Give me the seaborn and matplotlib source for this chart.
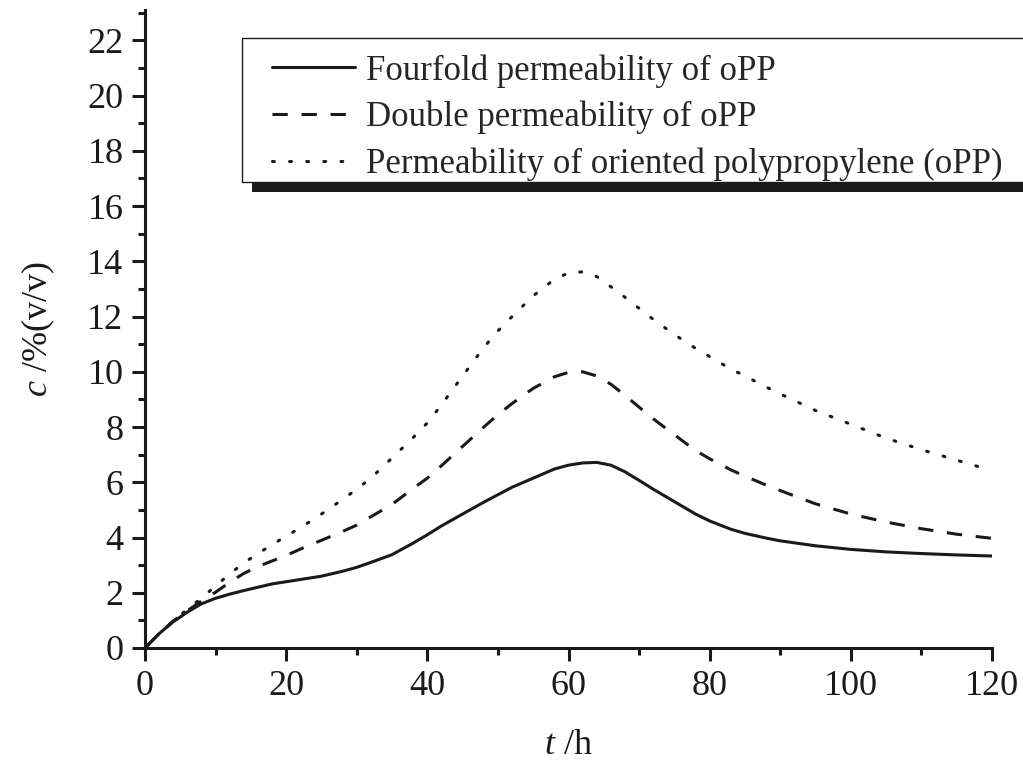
import pandas as pd
import matplotlib
matplotlib.use('Agg')
import matplotlib.pyplot as plt
from matplotlib.patches import Rectangle
from matplotlib.ticker import MultipleLocator
import seaborn as sns

# Время, ч
t = [0, 2, 4, 6, 8, 10, 12, 14, 16, 18, 20, 22, 25, 28, 30, 32, 35, 38, 40, 42,
     45, 48, 50, 52, 55, 58, 60, 62, 64, 66, 68, 70, 72, 75, 78, 80, 83, 85, 88,
     90, 95, 100, 105, 110, 115, 120]

# Концентрация, %(v/v)
fourfold = [0, 0.52, 0.95, 1.3, 1.6, 1.8, 1.95, 2.08, 2.2, 2.32, 2.4, 2.48, 2.6,
            2.78, 2.92, 3.1, 3.38, 3.8, 4.1, 4.42, 4.85, 5.28, 5.55, 5.82, 6.15,
            6.48, 6.62, 6.7, 6.72, 6.62, 6.38, 6.07, 5.75, 5.3, 4.85, 4.6, 4.3,
            4.15, 3.98, 3.88, 3.7, 3.57, 3.48, 3.42, 3.37, 3.33]
double = [0, 0.52, 0.98, 1.35, 1.7, 2.02, 2.38, 2.7, 2.95, 3.15, 3.35, 3.58, 3.9,
          4.22, 4.45, 4.75, 5.2, 5.78, 6.15, 6.6, 7.3, 8.0, 8.45, 8.85, 9.4, 9.82,
          9.98, 10.0, 9.85, 9.55, 9.15, 8.72, 8.3, 7.72, 7.15, 6.85, 6.45, 6.22,
          5.9, 5.7, 5.22, 4.85, 4.56, 4.32, 4.12, 3.97]
single = [0, 0.52, 0.98, 1.4, 1.8, 2.25, 2.68, 3.08, 3.42, 3.74, 4.05, 4.35, 4.85,
          5.38, 5.75, 6.15, 6.88, 7.62, 8.15, 8.8, 9.85, 10.88, 11.48, 12.0, 12.75,
          13.35, 13.58, 13.62, 13.45, 13.08, 12.7, 12.3, 11.9, 11.35, 10.85, 10.55,
          10.1, 9.85, 9.45, 9.2, 8.6, 8.1, 7.6, 7.18, 6.8, 6.42]

labels = ['Fourfold permeability of oPP',
          'Double permeability of oPP',
          'Permeability of oriented polypropylene (oPP)']


def main():
    sns.set_theme(style='ticks')
    plt.rcParams['font.family'] = ['Liberation Serif', 'DejaVu Serif']
    plt.rcParams['mathtext.fontset'] = 'custom'
    plt.rcParams['mathtext.rm'] = 'Liberation Serif'
    plt.rcParams['mathtext.it'] = 'Liberation Serif:italic'

    W, H = 1023, 761
    fig = plt.figure(figsize=(W / 100, H / 100), dpi=100)
    ax = fig.add_axes([145 / W, 1 - 648 / H, 847 / W, 638 / H])

    df = pd.DataFrame({'t': t, 'four': fourfold, 'double': double, 'single': single})
    lw = 2.2
    sns.lineplot(data=df, x='t', y='four', ax=ax, color='k', lw=lw,
                 linestyle='-', label=labels[0])
    sns.lineplot(data=df, x='t', y='double', ax=ax, color='k', lw=lw,
                 linestyle=(0, (5, 4.5)), label=labels[1])
    sns.lineplot(data=df, x='t', y='single', ax=ax, color='k', lw=lw,
                 linestyle=(0, (0.6, 5)), dash_capstyle='round', label=labels[2])

    ax.set_xlim(0, 120)
    ax.set_ylim(0, 23.1)
    ax.xaxis.set_major_locator(MultipleLocator(20))
    ax.xaxis.set_minor_locator(MultipleLocator(10))
    ax.yaxis.set_major_locator(MultipleLocator(2))
    ax.yaxis.set_minor_locator(MultipleLocator(1))
    sns.despine(ax=ax)
    for s in ['left', 'bottom']:
        ax.spines[s].set_linewidth(2.2)
        ax.spines[s].set_color('k')
    ax.tick_params(which='major', direction='out', length=9.5, width=2.2,
                   labelsize=26, pad=6, colors='k')
    ax.tick_params(which='minor', direction='out', length=5, width=2.2, colors='k')

    ax.set_xlabel('$t$ /h', fontsize=26, labelpad=19, color='k')
    ax.set_ylabel('$c$ /%(v/v)', fontsize=26, labelpad=22, color='k')

    # рамка легенды с тенью (как в Origin)
    fx, fy, fw, fh = 242 / W, 1 - 182 / H, 900 / W, 144 / H
    ax.add_artist(Rectangle((fx + 10 / W, fy - 10 / H), fw, fh, transform=fig.transFigure,
                            facecolor='k', edgecolor='none', zorder=4.8, clip_on=False))
    ax.add_artist(Rectangle((fx, fy), fw, fh, transform=fig.transFigure,
                            facecolor='white', edgecolor='k', lw=1, zorder=4.9,
                            clip_on=False))

    ax.legend(loc='upper left', bbox_to_anchor=(272 / W, 1 - 54 / H),
              bbox_transform=fig.transFigure, borderaxespad=0, borderpad=0,
              fontsize=25, handlelength=2.4, handletextpad=0.3,
              labelspacing=0.38, frameon=False)

    fig.savefig('out.png', dpi=100)


if __name__ == '__main__':
    main()
